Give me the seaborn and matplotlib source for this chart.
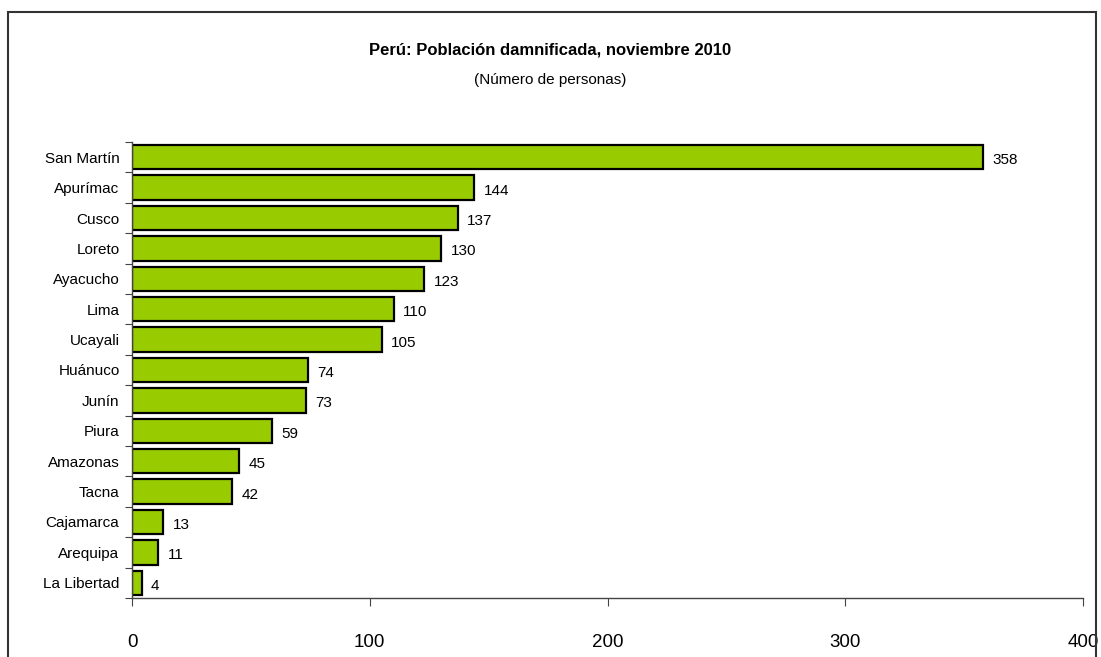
import matplotlib
matplotlib.use("Agg")
import matplotlib.pyplot as plt
import matplotlib.patches as mpatches
import seaborn as sns
import pandas as pd

# data
regions = ["San Martín", "Apurímac", "Cusco", "Loreto", "Ayacucho", "Lima", "Ucayali",
           "Huánuco", "Junín", "Piura", "Amazonas", "Tacna", "Cajamarca", "Arequipa",
           "La Libertad"]
personas = [358, 144, 137, 130, 123, 110, 105, 74, 73, 59, 45, 42, 13, 11, 4]
x_ticks = [0, 100, 200, 300, 400]

df = pd.DataFrame({"region": regions, "personas": personas})

sns.set_style("white")
plt.rcParams["font.family"] = ["Liberation Sans Narrow", "Liberation Sans", "DejaVu Sans"]
plt.rcParams["text.color"] = "black"
plt.rcParams["xtick.color"] = "#444444"
plt.rcParams["ytick.color"] = "#444444"
plt.rcParams["xtick.labelcolor"] = "black"
plt.rcParams["ytick.labelcolor"] = "black"

fig = plt.figure(figsize=(11.01, 6.57), dpi=100)
ax = fig.add_axes([132 / 1101, 1 - 598 / 657, (1083 - 132) / 1101, (598 - 142) / 657])

sns.barplot(data=df, y="region", x="personas", orient="h", color="#99CC00",
            edgecolor="black", linewidth=1.6, width=0.8, saturation=1, ax=ax)

for i, v in enumerate(personas):
    ax.text(v + 4, i + 0.1, str(v), va="center", ha="left", fontsize=11)

ax.set_xlim(0, 400)
ax.set_ylim(14.5, -0.5)
ax.set_xticks(x_ticks)
ax.set_xticklabels([str(t) for t in x_ticks], fontsize=13.5)
ax.set_yticks([i + 0.5 for i in range(-1, 15)], minor=False)
ax.set_yticklabels([])
ax.set_yticks(range(15), minor=True)
ax.set_yticklabels(regions, minor=True, fontsize=11)
ax.tick_params(axis="y", which="minor", length=0, pad=9)
ax.tick_params(axis="y", which="major", length=5, direction="out", left=True)
ax.tick_params(axis="x", length=6, direction="out", bottom=True, pad=20)
ax.set_xlabel("")
ax.set_ylabel("")

for s in ["top", "right"]:
    ax.spines[s].set_visible(False)
for s in ["left", "bottom"]:
    ax.spines[s].set_color("#444444")
    ax.spines[s].set_linewidth(1)

fig.text(0.5, 1 - 50 / 657, "Perú: Población damnificada, noviembre 2010",
         ha="center", va="center", fontsize=12, fontweight="bold")
fig.text(0.5, 1 - 80 / 657, "(Número de personas)", ha="center", va="center", fontsize=11)

border = mpatches.Rectangle((8 / 1101, -0.05), (1096 - 8) / 1101, 1.05 - 12 / 657,
                            transform=fig.transFigure, fill=False, edgecolor="#333333",
                            linewidth=1.5)
fig.patches.append(border)

fig.savefig("out.png", dpi=100)
